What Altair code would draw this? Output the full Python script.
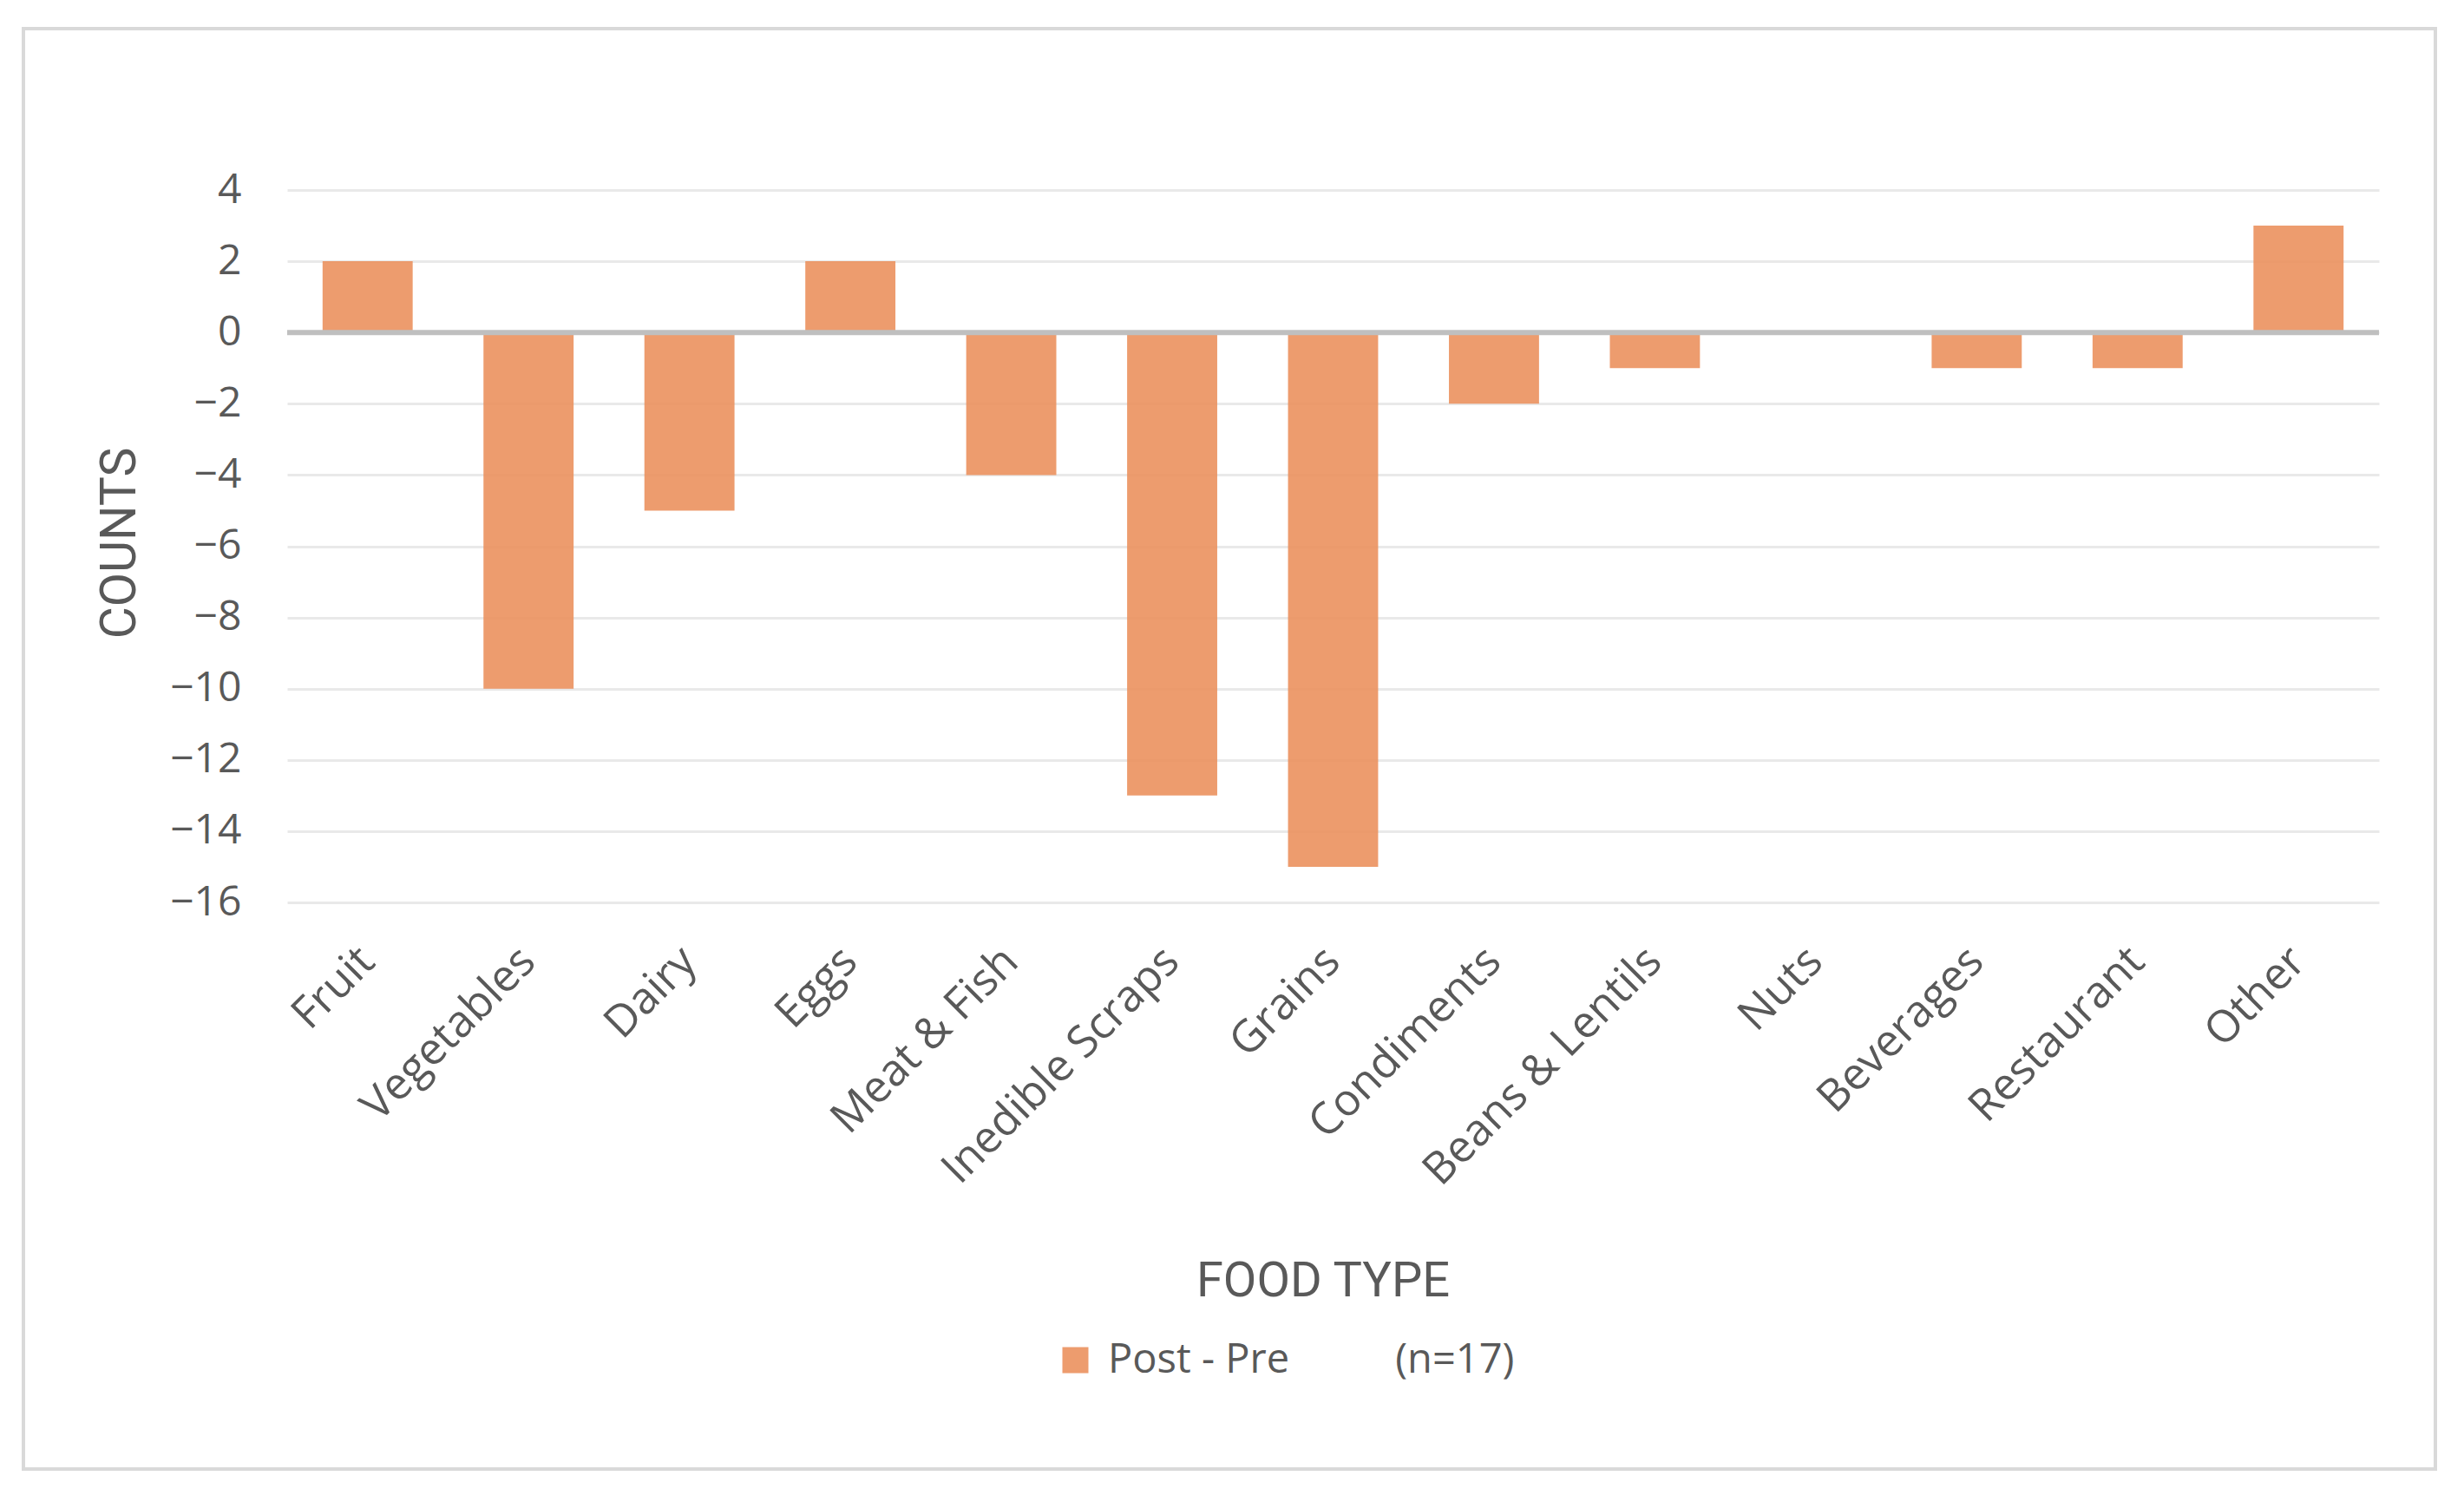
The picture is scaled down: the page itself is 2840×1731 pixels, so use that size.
import altair as alt
import pandas as pd

categories = ["Fruit", "Vegetables", "Dairy", "Eggs", "Meat & Fish", "Inedible Scraps",
              "Grains", "Condiments", "Beans & Lentils", "Nuts", "Beverages", "Restaurant", "Other"]
values = [2, -10, -5, 2, -4, -13, -15, -2, -1, 0, -1, -1, 3]
series_name = "Post - Pre"
note = "(n=17)"
y_ticks = list(range(-16, 5, 2))

df = pd.DataFrame({"food": categories, "count": values, "series": [series_name] * len(categories)})

W, H = 2411, 821
TEXT = "#595959"
NBSP = "\u00a0"
LFONT = "Open Sans"

frame = alt.Chart(pd.DataFrame({"k": [0]})).mark_rect(
    fill=None, stroke="#D9D9D9", strokeWidth=4
).encode(
    x=alt.value(-304), x2=alt.value(2476), y=alt.value(-186), y2=alt.value(1474)
)

bars = alt.Chart(df).mark_bar(opacity=0.88).encode(
    x=alt.X("food:N", sort=categories,
            scale=alt.Scale(paddingInner=0.44, paddingOuter=0.22),
            axis=alt.Axis(title="FOOD TYPE", labelAngle=-45, labelAlign="right",
                          labelBaseline="middle", labelPadding=60, labelFontSize=51,
                          labelFont=LFONT, labelColor=TEXT, labelLimit=0, labelOverlap=False,
                          ticks=False, domain=False, grid=False,
                          titleFontSize=56, titleColor=TEXT, titleFontWeight="normal",
                          titleBaseline="alphabetic", titleAlign="center",
                          titleX=W / 2 - 12, titleY=453)),
    y=alt.Y("count:Q", scale=alt.Scale(domain=[-16, 4], nice=False, zero=False),
            axis=alt.Axis(values=y_ticks, title="COUNTS", labelPadding=53, labelFontSize=48,
                          labelFont=LFONT, labelColor=TEXT, ticks=False, domain=False, grid=True,
                          gridColor="#E9E9E9", gridWidth=3,
                          titleFontSize=57, titleColor=TEXT, titleFontWeight="normal",
                          titleAngle=270, titleAlign="center", titleBaseline="alphabetic",
                          titleX=-176, titleY=H / 2 - 4)),
    color=alt.Color("series:N", scale=alt.Scale(range=["#EB8E5A"]),
                    legend=alt.Legend(title=None, orient="none", legendX=885, legendY=1325,
                                      labelExpr=f"datum.label + '{NBSP * 10}{note}'",
                                      labelFontSize=47, labelFont=LFONT, labelColor=TEXT,
                                      labelOffset=14, labelLimit=0,
                                      symbolType="square", symbolSize=900,
                                      symbolStrokeWidth=0, padding=0)),
)

zero = alt.Chart(pd.DataFrame({"y": [0]})).mark_rule(color="#BFBFBF", strokeWidth=6).encode(
    y="y:Q"
)

chart = alt.layer(frame, bars, zero).properties(
    width=W, height=H,
    autosize=alt.AutoSizeParams(type="none"),
    padding={"left": 323, "top": 211, "right": 90, "bottom": 683},
).configure(font="Roboto").configure_view(stroke=None)

chart.save("out.html", embed_options={"renderer": "svg", "actions": False})
